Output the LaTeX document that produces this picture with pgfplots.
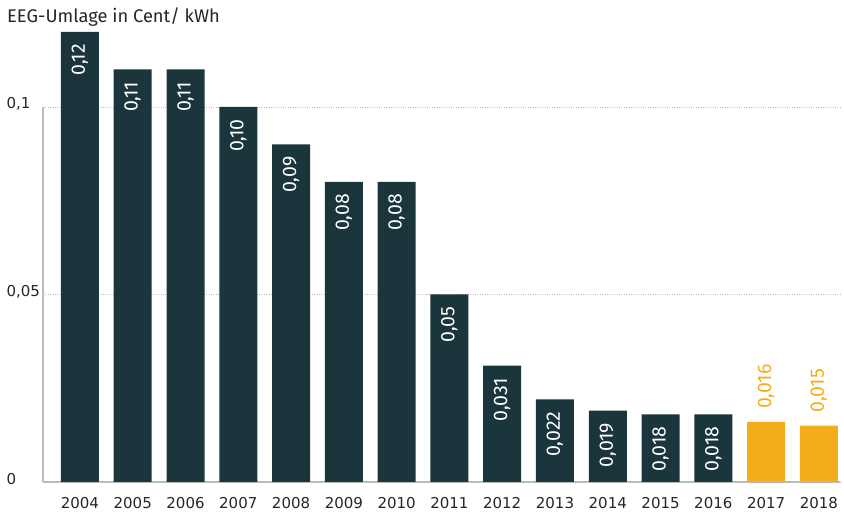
\documentclass[border=0pt]{standalone}
\usepackage{pgfplots}
\pgfplotsset{compat=1.18}
\usepackage{fontspec}
\setmainfont{Fira Sans}
\newfontfamily\tickfont{DejaVu Sans}
\definecolor{dark}{HTML}{1B353C}
\definecolor{orng}{HTML}{F5AC19}
\definecolor{axgray}{HTML}{BBBBBB}
\begin{document}
\begin{tikzpicture}[x=1pt,y=1pt]
\path[use as bounding box] (0,0) rectangle (844,513);
\node[anchor=west,inner sep=0pt,font=\fontsize{18.3}{21}\selectfont,text=black!85] at (7,496) {EEG-Umlage in Cent/ kWh};
\begin{axis}[
  at={(43pt,31pt)}, anchor=south west,
  scale only axis, width=797pt, height=375pt,
  xmin=-0.70, xmax=14.40, ymin=0, ymax=0.1,
  clip=false,
  axis x line*=bottom, axis y line*=left,
  axis line style={draw=axgray, line width=1.5pt, -},
  ytick={0,0.05,0.1},
  yticklabels={0,{0,05},{0,1}},
  xtick={0,...,14},
  xticklabels={2004,2005,2006,2007,2008,2009,2010,2011,2012,2013,2014,2015,2016,2017,2018},
  major tick length=0pt,
  tick style={draw=none},
  ymajorgrids, grid style={draw=axgray, dotted, line width=0.8pt},
  yticklabel style={anchor=west, xshift=-40pt, yshift=3pt, font=\tickfont\fontsize{15}{17}\selectfont, text=black!85},
  xticklabel style={font=\tickfont\fontsize{15}{17}\selectfont, text=black!85, yshift=-12pt},
  /pgf/number format/assume math mode=true,
  ybar, bar width=38pt,
  point meta=explicit symbolic,
  nodes near coords,
]
\addplot[fill=dark, draw=none, bar shift=0pt,
  every node near coord/.append style={yshift=-12pt, rotate=90, anchor=east, text=white, inner sep=0pt, font=\fontsize{19.5}{22}\selectfont}]
  coordinates {
  (0,0.12) [{0,12}]
  (1,0.11) [{0,11}]
  (2,0.11) [{0,11}]
  (3,0.10) [{0,10}]
  (4,0.09) [{0,09}]
  (5,0.08) [{0,08}]
  (6,0.08) [{0,08}]
  (7,0.05) [{0,05}]
  (8,0.031) [{0,031}]
  (9,0.022) [{0,022}]
  (10,0.019) [{0,019}]
  (11,0.018) [{0,018}]
  (12,0.018) [{0,018}]
  };
\addplot[fill=orng, draw=none, bar shift=0pt,
  every node near coord/.append style={yshift=13pt, rotate=90, anchor=west, text=orng, inner sep=0pt, font=\fontsize{19.5}{22}\selectfont}]
  coordinates {
  (13,0.016) [{0,016}]
  (14,0.015) [{0,015}]
  };
\end{axis}
\end{tikzpicture}
\end{document}
